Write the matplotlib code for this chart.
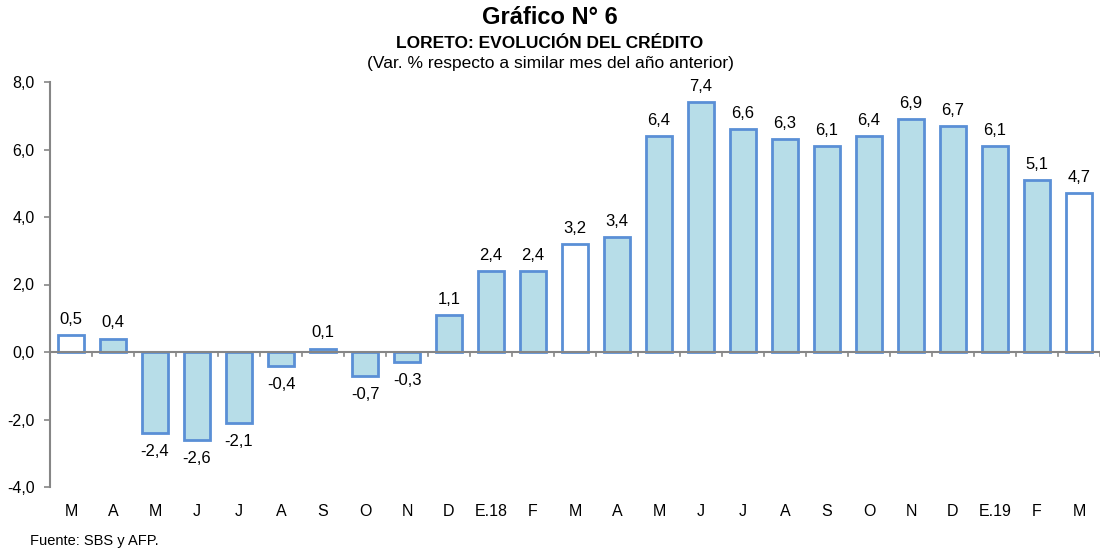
import numpy as np
import matplotlib.pyplot as plt

plt.rcParams['font.family'] = ['Liberation Sans', 'DejaVu Sans']

meses = ['M', 'A', 'M', 'J', 'J', 'A', 'S', 'O', 'N', 'D', 'E.18', 'F', 'M',
         'A', 'M', 'J', 'J', 'A', 'S', 'O', 'N', 'D', 'E.19', 'F', 'M']
valores = [0.5, 0.4, -2.4, -2.6, -2.1, -0.4, 0.1, -0.7, -0.3, 1.1, 2.4, 2.4, 3.2,
           3.4, 6.4, 7.4, 6.6, 6.3, 6.1, 6.4, 6.9, 6.7, 6.1, 5.1, 4.7]
blancos = [0, 12, 24]  # barras sin relleno

azul = '#5a8fd6'
celeste = '#b7dde8'
gris = '#868686'

fig = plt.figure(figsize=(11, 5.54), dpi=100)
ax = fig.add_axes([50/1100, 1-487/554, 1050/1100, 405/554])

x = np.arange(len(valores))
colores = [('white' if i in blancos else celeste) for i in x]
ax.bar(x, valores, width=0.62, color=colores, edgecolor=azul, linewidth=2, zorder=3)

for i, v in zip(x, valores):
    txt = f'{v:.1f}'.replace('.', ',')
    if v >= 0:
        ax.annotate(txt, (i, v), xytext=(0, 6), textcoords='offset points',
                    ha='center', va='bottom', fontsize=12)
    else:
        ax.annotate(txt, (i, v), xytext=(0, -8), textcoords='offset points',
                    ha='center', va='top', fontsize=12)

ax.set_xlim(-0.5, len(valores) - 0.5)
ax.set_ylim(-4, 8)
ax.set_yticks(np.arange(-4, 8.1, 2))
ax.set_yticklabels([f'{t:.1f}'.replace('.', ',') for t in np.arange(-4, 8.1, 2)], fontsize=11.5)

for s in ['top', 'right', 'bottom']:
    ax.spines[s].set_visible(False)
ax.spines['left'].set_color(gris)
ax.spines['left'].set_linewidth(1.5)
ax.tick_params(axis='y', color=gris, length=4, width=1.2, pad=7)

# eje horizontal en cero con marcas entre categorias
ax.axhline(0, color=gris, linewidth=1.5, zorder=4)
for b in np.arange(-0.5, len(valores), 1.0):
    ax.plot([b, b], [0, -0.12], color=gris, linewidth=1.2, zorder=4, clip_on=False)

ax.set_xticks(x)
ax.set_xticklabels(meses, fontsize=11.5)
ax.tick_params(axis='x', length=0, pad=12)

fig.text(0.5, 1-17/554, 'Gráfico N° 6', ha='center', va='center', fontsize=17, fontweight='bold')
fig.text(0.5, 1-44/554, 'LORETO: EVOLUCIÓN DEL CRÉDITO', ha='center', va='center',
         fontsize=12.5, fontweight='bold')
fig.text(0.5, 1-63/554, '(Var. % respecto a similar mes del año anterior)', ha='center',
         va='center', fontsize=12.5)
fig.text(30/1100, 1-541/554, 'Fuente: SBS y AFP.', ha='left', va='center', fontsize=10.5)

fig.savefig('out.png', dpi=100)
